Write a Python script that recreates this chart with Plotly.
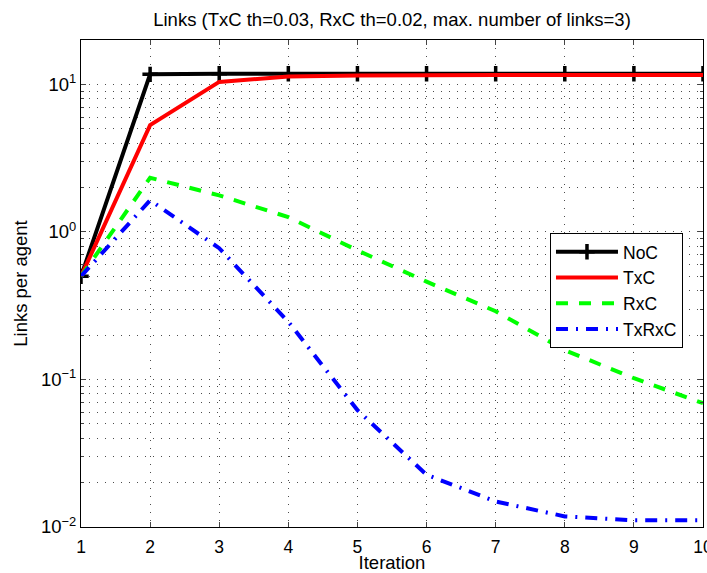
import plotly.graph_objects as go
import numpy as np

iterations = [1, 2, 3, 4, 5, 6, 7, 8, 9, 10]
noc = [0.5, 11.7, 11.8, 11.8, 11.8, 11.8, 11.8, 11.8, 11.8, 11.8]
txc = [0.5, 5.3, 10.4, 11.3, 11.5, 11.6, 11.6, 11.6, 11.6, 11.6]
rxc = [0.5, 2.33, 1.77, 1.26, 0.75, 0.46, 0.29, 0.158, 0.102, 0.069]
txrxc = [0.5, 1.64, 0.776, 0.246, 0.062, 0.0226, 0.0149, 0.0118, 0.0111, 0.0111]

ytick_vals = [0.01, 0.1, 1, 10]
ytick_text = ["10<sup>\u22122</sup>", "10<sup>\u22121</sup>", "10<sup>0</sup>", "10<sup>1</sup>"]
minor_vals = [m * 10.0**e for e in range(-2, 2) for m in range(2, 10)]

FONT = "Liberation Sans, Arial, sans-serif"
GRIDC = "rgba(0,0,0,0.7)"
GDASH = "1px,7px"

fig = go.Figure()
fig.add_trace(go.Scatter(x=iterations, y=noc, name="NoC", mode="lines+markers",
                         line=dict(color="black", width=4),
                         marker=dict(symbol="cross-thin", size=11, line=dict(color="black", width=3.5))))
fig.add_trace(go.Scatter(x=iterations, y=txc, name="TxC", mode="lines",
                         line=dict(color="#ff0000", width=4)))
fig.add_trace(go.Scatter(x=iterations, y=rxc, name="RxC", mode="lines",
                         line=dict(color="#00ff00", width=4, dash="12px,11px")))
fig.add_trace(go.Scatter(x=iterations, y=txrxc, name="TxRxC", mode="lines",
                         line=dict(color="#0000ff", width=4, dash="12px,8px,2px,8px")))

grid = dict(showgrid=True, gridcolor=GRIDC, griddash=GDASH, gridwidth=1)

fig.update_layout(
    width=707, height=573,
    margin=dict(l=81, r=4, t=40, b=46, autoexpand=False),
    paper_bgcolor="white", plot_bgcolor="white",
    font=dict(family=FONT, color="black", size=18),
    title=dict(text="Links (TxC th=0.03, RxC th=0.02, max. number of links=3)",
               x=0.5, xref="paper", xanchor="center", y=1 - 20 / 573, yref="container",
               yanchor="middle", font=dict(size=18.5)),
    showlegend=True,
    legend=dict(x=0.754, y=0.604, xanchor="left", yanchor="top",
                bordercolor="black", borderwidth=1, bgcolor="white",
                font=dict(size=17.5), tracegroupgap=0, itemwidth=62),
)
fig.update_xaxes(range=[1, 10], tickvals=iterations, ticks="inside", ticklen=5,
                 showline=True, linecolor="black", linewidth=1, mirror="ticks",
                 title=dict(text="Iteration", standoff=3, font=dict(size=18.5)),
                 tickfont=dict(size=17.5), ticklabeloverflow="allow", ticklabelstandoff=4,
                 automargin=False, zeroline=False, **grid)
fig.update_yaxes(type="log", range=[-2, np.log10(20)], tickvals=ytick_vals, ticktext=ytick_text,
                 ticks="inside", ticklen=5,
                 showline=True, linecolor="black", linewidth=1, mirror="ticks",
                 title=dict(text="Links per agent", standoff=8, font=dict(size=18.5)),
                 tickfont=dict(size=18.5), automargin=False, zeroline=False,
                 minor=dict(tickvals=minor_vals, ticks="inside", ticklen=3, showgrid=True,
                            gridcolor=GRIDC, griddash=GDASH, gridwidth=1),
                 **grid)

fig.write_html("out.html")
